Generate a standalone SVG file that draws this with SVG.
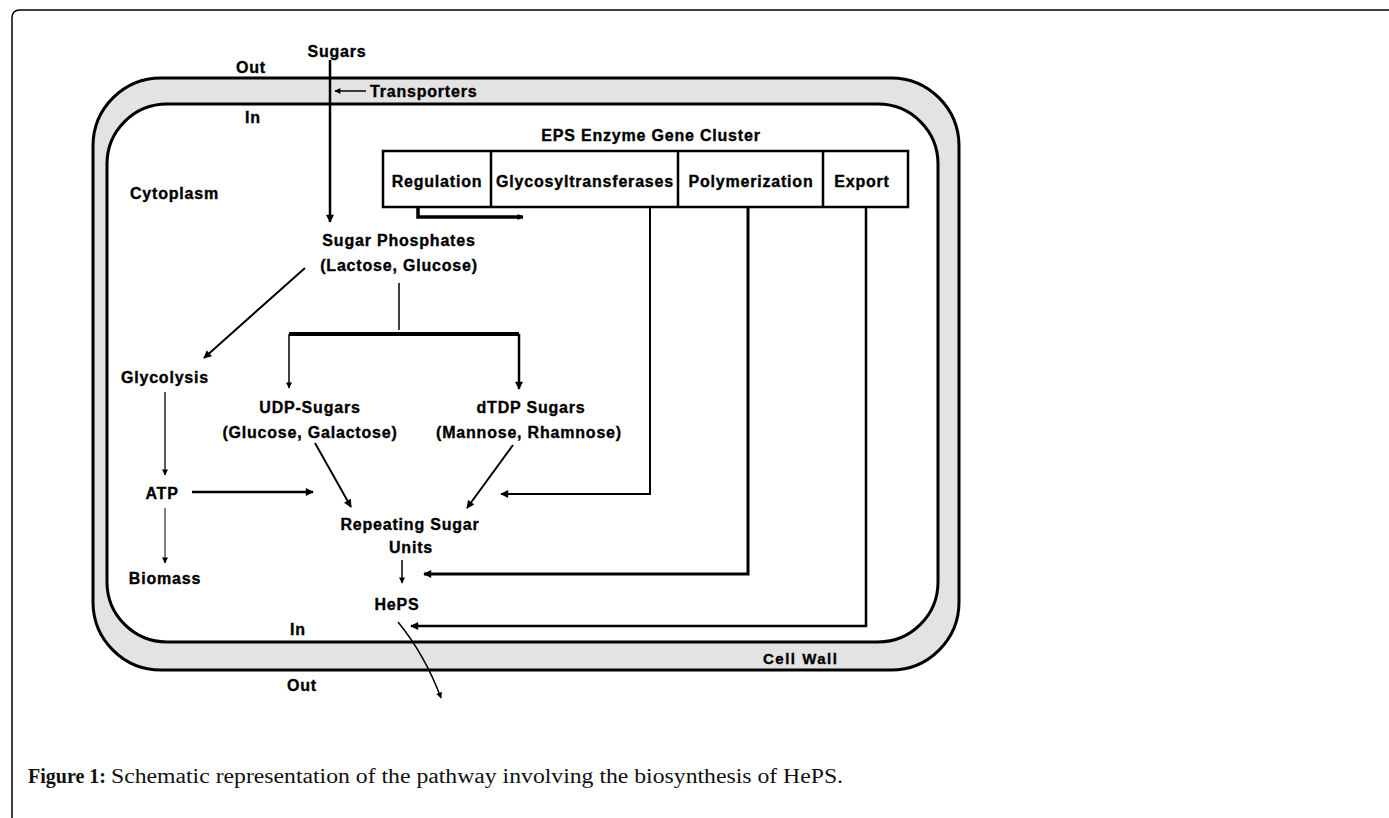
<svg xmlns="http://www.w3.org/2000/svg" width="1389" height="818" viewBox="0 0 1389 818">
<style>
.t{font-family:"Liberation Sans",Arial,sans-serif;font-weight:bold;font-size:16px;letter-spacing:0.8px;fill:#000;stroke:#000;stroke-width:0.35px;}
.c{text-anchor:middle;}
.ln{fill:none;stroke:#000;stroke-linejoin:miter;}
.cap{font-family:"Liberation Serif","Times New Roman",serif;font-size:20px;fill:#111;}
</style>
<defs>
<marker id="ah" viewBox="0 0 10 10" refX="9" refY="5" markerUnits="userSpaceOnUse" markerWidth="9" markerHeight="8" orient="auto">
<path d="M0,0 L10,5 L0,10 z" fill="#000"/>
</marker>
<marker id="ahs" viewBox="0 0 10 10" refX="9" refY="5" markerUnits="userSpaceOnUse" markerWidth="7" markerHeight="6" orient="auto">
<path d="M0,0 L10,5 L0,10 z" fill="#000"/>
</marker>
</defs>
<rect width="1389" height="818" fill="#fff"/>
<path d="M12,818 V18 Q12,10 20,10 H1389" fill="none" stroke="#000" stroke-width="1.5"/>

<g id="cellwall">
<path fill="#e3e3e3" fill-rule="evenodd" stroke="#000" stroke-width="3" d="M161,78 H891 A68,68 0 0 1 959,146 V602 A68,68 0 0 1 891,670 H161 A68,68 0 0 1 93,602 V146 A68,68 0 0 1 161,78 Z M167,104 H878 A60,60 0 0 1 938,164 V582 A60,60 0 0 1 878,642 H167 A60,60 0 0 1 107,582 V164 A60,60 0 0 1 167,104 Z"/>
<text class="t" x="763" y="664" style="font-size:15px;letter-spacing:1.5px">Cell Wall</text>
</g>

<g id="labels">
<text class="t c" x="337" y="57">Sugars</text>
<text class="t c" x="251" y="73">Out</text>
<text class="t" x="370" y="97">Transporters</text>
<text class="t c" x="253" y="123">In</text>
<text class="t" x="130" y="199">Cytoplasm</text>
<text class="t c" x="298" y="635">In</text>
<text class="t c" x="302" y="691">Out</text>
</g>

<g id="gene-cluster">
<text class="t c" x="651" y="141">EPS Enzyme Gene Cluster</text>
<rect x="383" y="151" width="525" height="56" fill="#fff" stroke="#000" stroke-width="2.5"/>
<path d="M491,151 V207 M678,151 V207 M823,151 V207" stroke="#000" stroke-width="2.5"/>
<text class="t c" x="437" y="187">Regulation</text>
<text class="t c" x="585" y="187">Glycosyltransferases</text>
<text class="t c" x="751" y="187">Polymerization</text>
<text class="t c" x="862" y="187">Export</text>
</g>

<g id="sugar-phosphates">
<text class="t c" x="399" y="246">Sugar Phosphates</text>
<text class="t c" x="399" y="271">(Lactose, Glucose)</text>
</g>
<g id="glycolysis"><text class="t c" x="165" y="383">Glycolysis</text></g>
<g id="udp-sugars">
<text class="t c" x="310" y="413">UDP-Sugars</text>
<text class="t c" x="310" y="438">(Glucose, Galactose)</text>
</g>
<g id="dtdp-sugars">
<text class="t c" x="531" y="413">dTDP Sugars</text>
<text class="t c" x="529" y="438">(Mannose, Rhamnose)</text>
</g>
<g id="atp"><text class="t c" x="162" y="499">ATP</text></g>
<g id="repeating">
<text class="t c" x="410" y="530">Repeating Sugar</text>
<text class="t c" x="411" y="553">Units</text>
</g>
<g id="biomass"><text class="t c" x="165" y="584">Biomass</text></g>
<g id="heps"><text class="t c" x="397" y="610">HePS</text></g>

<g id="connectors">
<path class="ln" d="M330,60 V222" stroke-width="2.5" marker-end="url(#ah)"/>
<path class="ln" d="M366,91 H335" stroke-width="1.5" marker-end="url(#ahs)"/>
<path class="ln" d="M418,207 V217 H523" stroke-width="3.5" marker-end="url(#ahs)"/>
<path class="ln" d="M305,268 L204,358" stroke-width="2" marker-end="url(#ah)"/>
<path class="ln" d="M399,283 V330" stroke-width="1.5"/>
<path class="ln" d="M289,334 H519" stroke-width="4"/>
<path class="ln" d="M289,334 V388" stroke-width="1.5" marker-end="url(#ahs)"/>
<path class="ln" d="M519,334 V389" stroke-width="2.5" marker-end="url(#ah)"/>
<path class="ln" d="M165,392 V475" stroke-width="1.3" marker-end="url(#ahs)"/>
<path class="ln" d="M165,508 V563" stroke-width="1" marker-end="url(#ahs)"/>
<path class="ln" d="M192,492 H313" stroke-width="2.5" marker-end="url(#ah)"/>
<path class="ln" d="M315,443 L351,507" stroke-width="2" marker-end="url(#ah)"/>
<path class="ln" d="M513,445 L467,508" stroke-width="2" marker-end="url(#ah)"/>
<path class="ln" d="M650,207 V494 H501" stroke-width="2" marker-end="url(#ah)"/>
<path class="ln" d="M748,207 V574 H424" stroke-width="3" marker-end="url(#ah)"/>
<path class="ln" d="M402,560 V583" stroke-width="1.5" marker-end="url(#ahs)"/>
<path class="ln" d="M866,207 V626 H411" stroke-width="2.5" marker-end="url(#ah)"/>
<path class="ln" d="M398,622 Q425,655 441,698" stroke-width="1.5" marker-end="url(#ahs)"/>
</g>

<g id="caption">
<text class="cap" x="28" y="783" font-weight="bold">Figure 1:</text>
<text class="cap" x="111" y="783" textLength="732" lengthAdjust="spacingAndGlyphs">Schematic representation of the pathway involving the biosynthesis of HePS.</text>
</g>
</svg>
